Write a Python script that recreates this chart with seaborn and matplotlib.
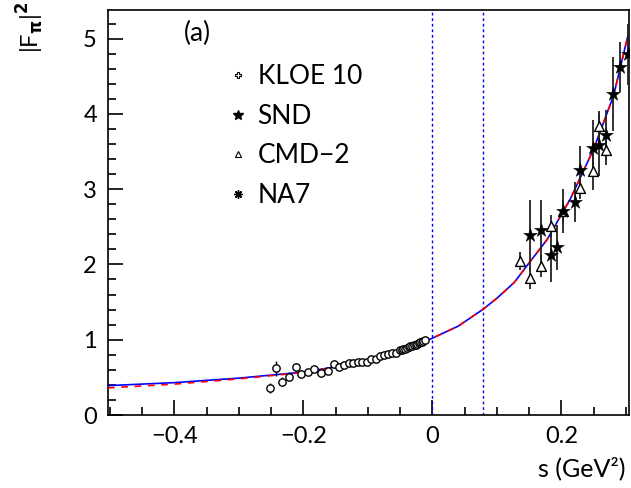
import numpy as np
import pandas as pd
import matplotlib
matplotlib.use("Agg")
import matplotlib.pyplot as plt
import seaborn as sns
from matplotlib.lines import Line2D
from matplotlib.ticker import MultipleLocator

# ---- data -------------------------------------------------------------
kloe_s = [-0.252, -0.243, -0.233, -0.222, -0.212, -0.203, -0.193, -0.183, -0.173,
          -0.162, -0.153, -0.144, -0.137, -0.130, -0.123, -0.116, -0.109, -0.101,
          -0.095, -0.088, -0.081, -0.075, -0.069, -0.062, -0.056, -0.050, -0.047,
          -0.045, -0.042, -0.039, -0.036, -0.034, -0.031, -0.029, -0.026, -0.024,
          -0.021, -0.019, -0.016, -0.014, -0.012]
kloe_f = [0.36, 0.62, 0.44, 0.51, 0.64, 0.55, 0.57, 0.61, 0.56,
          0.59, 0.68, 0.64, 0.67, 0.69, 0.69, 0.70, 0.71, 0.70,
          0.74, 0.74, 0.79, 0.80, 0.81, 0.83, 0.82, 0.86, 0.87,
          0.88, 0.88, 0.89, 0.90, 0.91, 0.92, 0.93, 0.93, 0.94,
          0.95, 0.97, 0.97, 0.98, 0.99]
kloe_err = [0.07, 0.10, 0.06, 0.06, 0.05, 0.03, 0.03, 0.03, 0.03,
            0.03, 0.03, 0.02, 0.02, 0.02, 0.02, 0.02, 0.02, 0.02,
            0.02, 0.02, 0.02, 0.01, 0.01, 0.01, 0.01, 0.01, 0.01,
            0.01, 0.01, 0.01, 0.01, 0.01, 0.01, 0.01, 0.01, 0.01,
            0.01, 0.01, 0.01, 0.01, 0.01]

snd_s = [0.151, 0.168, 0.184, 0.193, 0.202, 0.221, 0.229, 0.249, 0.259, 0.270, 0.280, 0.291, 0.303]
snd_f = [2.39, 2.46, 2.12, 2.23, 2.71, 2.83, 3.26, 3.55, 3.59, 3.72, 4.26, 4.62, 4.79]
snd_err = [0.46, 0.40, 0.35, 0.30, 0.29, 0.27, 0.32, 0.37, 0.42, 0.33, 0.49, 0.33, 0.40]

cmd_s = [0.136, 0.151, 0.168, 0.184, 0.202, 0.229, 0.249, 0.259, 0.270]
cmd_f = [2.04, 1.82, 1.98, 2.51, 2.71, 3.02, 3.24, 3.84, 3.52]
cmd_err = [0.12, 0.15, 0.15, 0.15, 0.15, 0.15, 0.25, 0.20, 0.20]

fit_s = [-0.503, -0.4, -0.3, -0.2, -0.15, -0.1, -0.05, 0.0, 0.04, 0.078, 0.10,
         0.127, 0.15, 0.178, 0.214, 0.25, 0.281, 0.305]
fit_blue = [0.39, 0.43, 0.49, 0.57, 0.64, 0.72, 0.84, 1.02, 1.18, 1.40, 1.55,
            1.76, 2.02, 2.33, 2.87, 3.53, 4.24, 5.10]
fit_red = [0.36, 0.41, 0.48, 0.565, 0.635, 0.72, 0.84, 1.02, 1.18, 1.40, 1.55,
           1.76, 2.02, 2.33, 2.87, 3.53, 4.24, 5.10]

vlines_s = [0.0, 0.0779]
legend_labels = ["KLOE 10", "SND", "CMD\u22122", "NA7"]

# ---- style ------------------------------------------------------------
sns.set_style("ticks")
plt.rcParams['font.family'] = ['Lato', 'DejaVu Sans']
plt.rcParams['axes.unicode_minus'] = True
for k in ['text.color', 'axes.labelcolor', 'xtick.color', 'ytick.color', 'axes.edgecolor']:
    plt.rcParams[k] = 'black'

fig = plt.figure(figsize=(6.31, 4.88), dpi=100)
ax = fig.add_axes([108/631, 1 - 415/488, (629 - 108)/631, (415 - 10)/488])

fit_df = pd.DataFrame({"s": fit_s + fit_s,
                       "F": fit_blue + fit_red,
                       "model": ["blue"] * len(fit_s) + ["red"] * len(fit_s)})
sns.lineplot(data=fit_df[fit_df.model == "blue"], x="s", y="F", ax=ax,
             color="blue", lw=1.2, legend=False, zorder=2)
sns.lineplot(data=fit_df[fit_df.model == "red"], x="s", y="F", ax=ax,
             color="red", lw=1.2, linestyle=(0, (4, 4)), legend=False, zorder=3)

for v in vlines_s:
    ax.axvline(v, color="blue", lw=1.0, linestyle=(0, (2, 2)), zorder=1)

ax.errorbar(kloe_s, kloe_f, yerr=kloe_err, fmt="none", ecolor="black", elinewidth=1.0, zorder=4)
sns.scatterplot(x=kloe_s, y=kloe_f, ax=ax, marker="o", s=28, facecolor="white",
                edgecolor="black", linewidth=1.0, zorder=5)

ax.errorbar(cmd_s, cmd_f, yerr=cmd_err, fmt="none", ecolor="#222222", elinewidth=1.3, zorder=4)
sns.scatterplot(x=cmd_s, y=cmd_f, ax=ax, marker="^", s=50, facecolor="white",
                edgecolor="black", linewidth=1.0, zorder=5)

ax.errorbar(snd_s, snd_f, yerr=snd_err, fmt="none", ecolor="#222222", elinewidth=1.3, zorder=4)
sns.scatterplot(x=snd_s, y=snd_f, ax=ax, marker="*", s=110, color="black",
                edgecolor="black", linewidth=0.3, zorder=6)

ax.set_xlim(-0.503, 0.305)
ax.set_ylim(0, 5.38)
ax.xaxis.set_major_locator(MultipleLocator(0.2))
ax.xaxis.set_minor_locator(MultipleLocator(0.05))
ax.yaxis.set_major_locator(MultipleLocator(1))
ax.yaxis.set_minor_locator(MultipleLocator(0.2))
ax.tick_params(which="both", direction="in", top=False, right=False, labelsize=17, pad=8,
               width=1.2, colors="black")
ax.tick_params(which="major", length=11)
ax.tick_params(which="minor", length=6)
ax.set_xticks([-0.4, -0.2, 0, 0.2])
ax.set_xticklabels(["\u22120.4", "\u22120.2", "0", "0.2"])
ax.set_yticks([0, 1, 2, 3, 4, 5])
ax.set_yticklabels(["0", "1", "2", "3", "4", "5"])
for sp in ax.spines.values():
    sp.set_visible(True)
    sp.set_linewidth(1.2)
    sp.set_color("black")
ax.set_xlabel("")
ax.set_ylabel("")

fig.text(626/631, 1 - 468/488, "s (GeV\u00b2)", ha="right", va="center", fontsize=18)
fig.text(30/631, 1 - 27/488, r"|F$_\mathbf{\pi}$|$^\mathbf{2}$", ha="center", va="center",
         fontsize=17, rotation=90)

ax.text(-0.365, 5.07, "(a)", fontsize=19, ha="center", va="center")

handles = [
    Line2D([], [], marker="P", color="black", markerfacecolor="white", markersize=5, lw=0, markeredgewidth=0.8),
    Line2D([], [], marker="*", color="black", markersize=7, lw=0),
    Line2D([], [], marker="^", color="black", markerfacecolor="white", markersize=5, lw=0, markeredgewidth=0.8),
    Line2D([], [], marker=(8, 2, 0), color="black", markersize=6, lw=0),
]
leg = ax.legend(handles, legend_labels, loc="upper left", bbox_to_anchor=(0.234, 0.866),
                frameon=False, fontsize=19, handlelength=0.6, handletextpad=0.45,
                labelspacing=0.55, borderaxespad=0, borderpad=0)

fig.savefig("out.png", dpi=100)
